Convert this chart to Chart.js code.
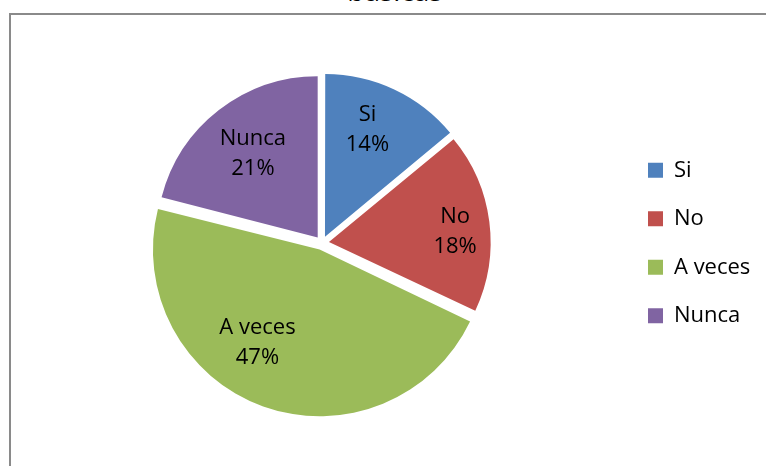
<!DOCTYPE html>
<html>
<head>
<meta charset="utf-8">
<script src="https://cdn.jsdelivr.net/npm/chart.js@4/dist/chart.umd.min.js"></script>
<style>
  html, body { margin: 0; padding: 0; background: #fff; }
  #wrap { position: relative; width: 766px; height: 466px; overflow: hidden; }
  #frameTop { position: absolute; left: 9px; top: 13px; width: 757px; height: 2px; background: #8a8a8a; }
  #frameLeft { position: absolute; left: 9px; top: 13px; width: 2px; height: 453px; background: #8a8a8a; }
  #title { position: absolute; left: 0; width: 790px; top: -24px; text-align: center;
           font-family: "Open Sans", sans-serif; font-size: 28px; line-height: 1; color: #000; }
  #c { position: absolute; left: 0; top: 0; }
</style>
</head>
<body>
<div id="wrap">
  <div id="title">básicas</div>
  <div id="frameTop"></div>
  <div id="frameLeft"></div>
  <canvas id="c" width="766" height="466"></canvas>
</div>
<script>
const categories = ["Si", "No", "A veces", "Nunca"];
const percentValues = [14, 18, 47, 21];
const sliceColors = ["#4F81BD", "#C0504D", "#9BBB59", "#8064A2"];

const FONT = '"Open Sans", sans-serif';
const FONT_SIZE = 22;
const LEGEND_PAD = 26.5;
const BOX = 15;
const LEGEND_LEFT = 621.5;   // square starts at LEGEND_LEFT + LEGEND_PAD

// measure natural legend width so the legend lands where wanted
const mctx = document.createElement('canvas').getContext('2d');
mctx.font = FONT_SIZE + 'px ' + FONT;
let maxText = 0;
categories.forEach(c => { maxText = Math.max(maxText, mctx.measureText(c).width); });
const legendWidth = LEGEND_PAD + BOX + FONT_SIZE / 2 + maxText + 10;
const padRight = Math.max(0, 766 - LEGEND_LEFT - legendWidth);
const padLeft = 644 - LEGEND_LEFT;

const sliceLabelPlugin = {
  id: 'sliceLabels',
  afterDatasetsDraw(chart, args, opts) {
    const ctx = chart.ctx;
    const meta = chart.getDatasetMeta(0);
    const data = chart.data.datasets[0].data;
    const total = data.reduce((a, b) => a + b, 0);
    ctx.save();
    ctx.font = opts.size + 'px ' + FONT;
    ctx.fillStyle = '#000';
    ctx.textAlign = 'center';
    ctx.textBaseline = 'middle';
    meta.data.forEach((arc, i) => {
      const p = arc.getProps(['x', 'y', 'startAngle', 'endAngle', 'outerRadius'], true);
      const place = opts.placement[i];
      const mid = (p.startAngle + p.endAngle) / 2 + place.dAngle * Math.PI / 180;
      const r = p.outerRadius * place.rFrac;
      const cx = p.x + Math.cos(mid) * r;
      const cy = p.y + Math.sin(mid) * r;
      const pct = Math.round(data[i] / total * 100) + '%';
      ctx.fillText(chart.data.labels[i], cx, cy - opts.lineGap / 2);
      ctx.fillText(pct, cx, cy + opts.lineGap / 2);
    });
    ctx.restore();
  }
};

new Chart(document.getElementById('c'), {
  type: 'pie',
  data: {
    labels: categories,
    datasets: [{
      data: percentValues,
      backgroundColor: sliceColors,
      borderWidth: 0,
      offset: 28,
      hoverOffset: 0
    }]
  },
  options: {
    responsive: false,
    animation: false,
    events: [],
    layout: { padding: { left: padLeft, right: padRight, top: 68, bottom: 48 } },
    plugins: {
      tooltip: { enabled: false },
      title: { display: false },
      legend: {
        position: 'right',
        labels: {
          boxWidth: BOX,
          boxHeight: BOX,
          padding: LEGEND_PAD,
          color: '#000',
          font: { family: FONT, size: FONT_SIZE }
        }
      },
      sliceLabels: {
        size: FONT_SIZE,
        lineGap: 30,
        placement: [
          { dAngle: -3.4, rFrac: 0.76 },
          { dAngle: 2.2, rFrac: 0.83 },
          { dAngle: 13, rFrac: 0.74 },
          { dAngle: 0, rFrac: 0.70 }
        ]
      }
    }
  },
  plugins: [sliceLabelPlugin]
});
</script>
</body>
</html>
